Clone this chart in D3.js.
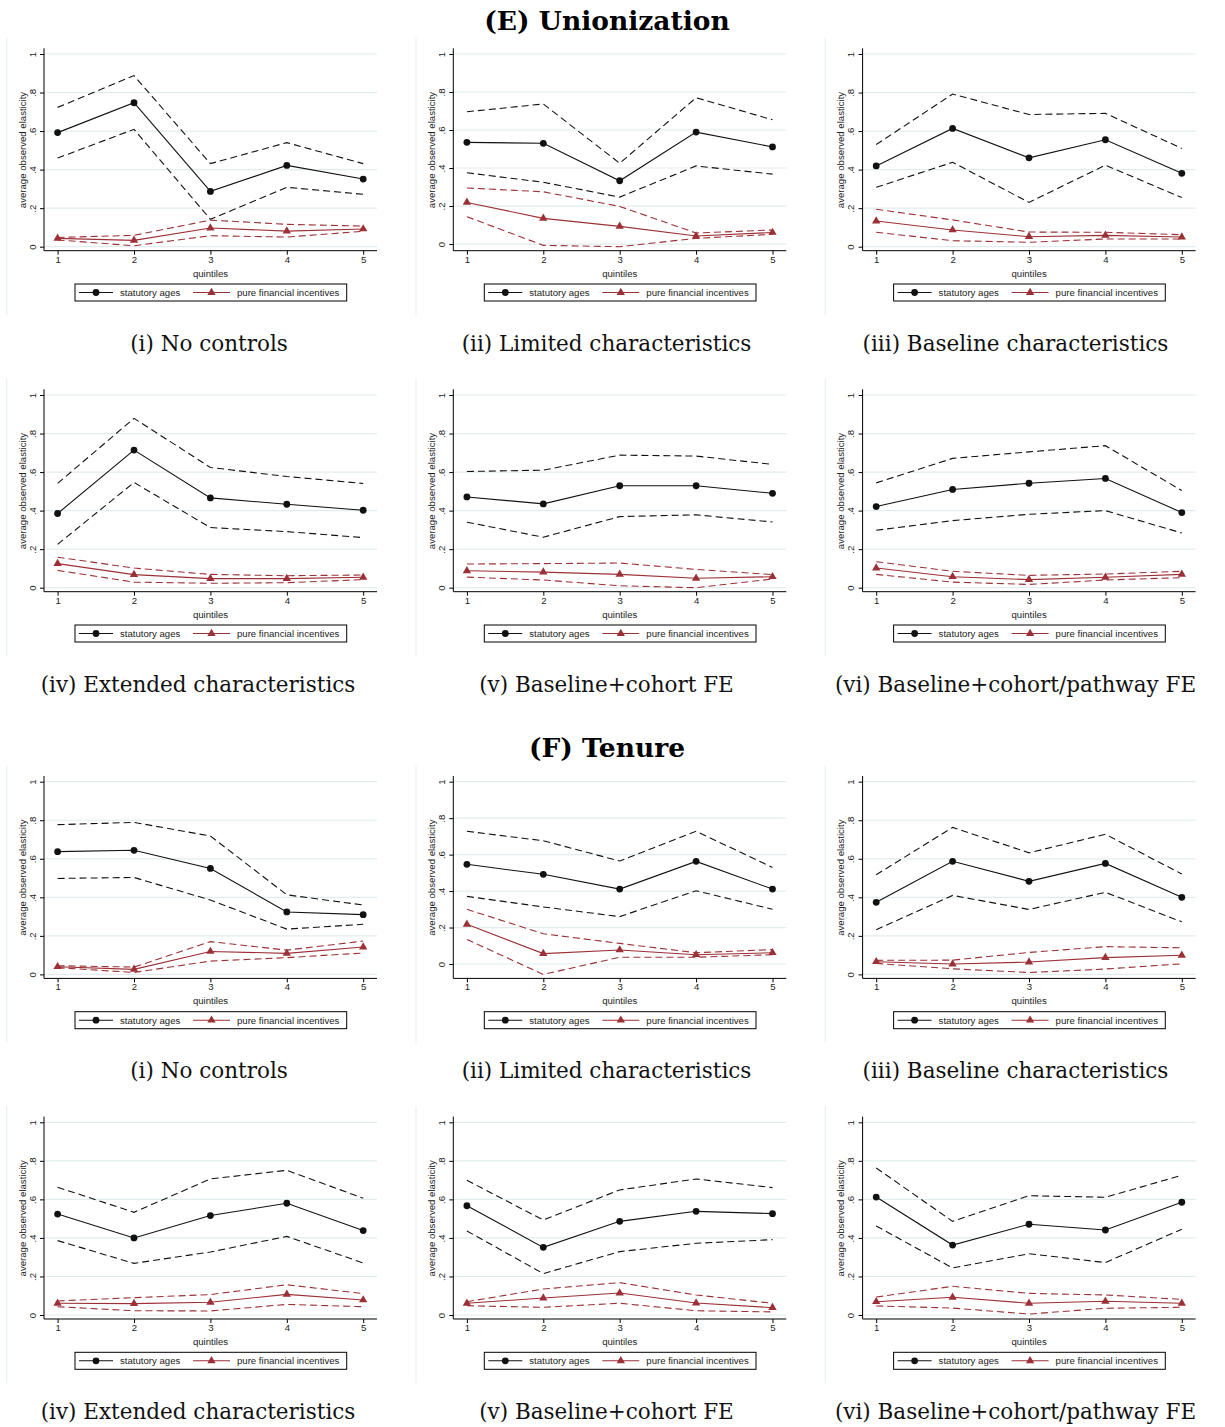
<!DOCTYPE html>
<html>
<head>
<meta charset="utf-8">
<script src="https://cdn.jsdelivr.net/npm/d3@7"></script>
<style>
  body { margin: 0; background: #fff; }
  svg text { font-family: "Liberation Sans", Arial, sans-serif; }
  .cap { font-family: "DejaVu Serif", serif !important; }
</style>
</head>
<body>
<div id="chart"></div>
<script>
// x categories and y ticks
const quintiles = [1, 2, 3, 4, 5];
const yTicks = [0, 0.2, 0.4, 0.6, 0.8, 1];
const yTickLabels = ["0", ".2", ".4", ".6", ".8", "1"];
const seriesNames = ["statutory ages", "pure financial incentives"];
const sectionTitles = ["(E) Unionization", "(F) Tenure"];
const captions = ["(i) No controls", "(ii) Limited characteristics", "(iii) Baseline characteristics",
                  "(iv) Extended characteristics", "(v) Baseline+cohort FE", "(vi) Baseline+cohort/pathway FE"];

// (E) Unionization, one row per specification
const unionStat = [
  [0.592, 0.747, 0.287, 0.422, 0.351],
  [0.535, 0.530, 0.333, 0.589, 0.511],
  [0.419, 0.614, 0.461, 0.555, 0.381],
  [0.385, 0.714, 0.466, 0.433, 0.402],
  [0.471, 0.435, 0.529, 0.529, 0.490],
  [0.421, 0.510, 0.542, 0.567, 0.390]
];
const unionStatHi = [
  [0.723, 0.888, 0.431, 0.540, 0.431],
  [0.696, 0.737, 0.425, 0.770, 0.654],
  [0.530, 0.792, 0.686, 0.692, 0.510],
  [0.541, 0.879, 0.624, 0.577, 0.541],
  [0.603, 0.610, 0.688, 0.683, 0.640],
  [0.544, 0.671, 0.705, 0.737, 0.504]
];
const unionStatLo = [
  [0.460, 0.609, 0.142, 0.308, 0.272],
  [0.375, 0.325, 0.247, 0.411, 0.368],
  [0.308, 0.438, 0.230, 0.423, 0.255],
  [0.225, 0.546, 0.312, 0.291, 0.260],
  [0.340, 0.262, 0.369, 0.378, 0.341],
  [0.298, 0.348, 0.381, 0.400, 0.284]
];
const unionFin = [
  [0.043, 0.033, 0.097, 0.081, 0.092],
  [0.219, 0.135, 0.093, 0.042, 0.061],
  [0.133, 0.087, 0.052, 0.059, 0.050],
  [0.125, 0.068, 0.047, 0.047, 0.054],
  [0.088, 0.081, 0.069, 0.049, 0.057],
  [0.102, 0.057, 0.042, 0.054, 0.069]
];
const unionFinHi = [
  [0.048, 0.059, 0.138, 0.116, 0.107],
  [0.295, 0.275, 0.198, 0.058, 0.074],
  [0.194, 0.139, 0.076, 0.075, 0.062],
  [0.158, 0.102, 0.069, 0.062, 0.066],
  [0.123, 0.125, 0.128, 0.095, 0.068],
  [0.135, 0.085, 0.064, 0.071, 0.085]
];
const unionFinLo = [
  [0.035, 0.005, 0.057, 0.050, 0.080],
  [0.144, -0.007, -0.014, 0.030, 0.051],
  [0.075, 0.031, 0.023, 0.040, 0.040],
  [0.090, 0.029, 0.023, 0.026, 0.042],
  [0.055, 0.040, 0.010, 0.000, 0.045],
  [0.069, 0.029, 0.017, 0.040, 0.052]
];

// (F) Tenure
const tenureStat = [
  [0.637, 0.644, 0.550, 0.324, 0.310],
  [0.547, 0.492, 0.411, 0.563, 0.411],
  [0.374, 0.587, 0.483, 0.576, 0.400],
  [0.524, 0.400, 0.516, 0.580, 0.438],
  [0.567, 0.351, 0.486, 0.538, 0.526],
  [0.612, 0.363, 0.471, 0.441, 0.585]
];
const tenureStatHi = [
  [0.777, 0.789, 0.718, 0.413, 0.360],
  [0.728, 0.676, 0.565, 0.728, 0.530],
  [0.517, 0.763, 0.631, 0.727, 0.521],
  [0.663, 0.533, 0.706, 0.751, 0.606],
  [0.699, 0.493, 0.649, 0.706, 0.661],
  [0.763, 0.486, 0.619, 0.611, 0.725]
];
const tenureStatLo = [
  [0.498, 0.503, 0.386, 0.235, 0.260],
  [0.371, 0.313, 0.260, 0.402, 0.300],
  [0.232, 0.410, 0.337, 0.426, 0.273],
  [0.386, 0.268, 0.327, 0.408, 0.270],
  [0.436, 0.215, 0.329, 0.372, 0.391],
  [0.462, 0.244, 0.318, 0.272, 0.445]
];
const tenureFin = [
  [0.040, 0.026, 0.119, 0.109, 0.142],
  [0.218, 0.057, 0.077, 0.051, 0.062],
  [0.066, 0.054, 0.064, 0.087, 0.099],
  [0.061, 0.059, 0.066, 0.107, 0.078],
  [0.061, 0.088, 0.114, 0.062, 0.038],
  [0.069, 0.092, 0.061, 0.071, 0.061]
];
const tenureFinHi = [
  [0.045, 0.038, 0.170, 0.126, 0.173],
  [0.300, 0.166, 0.113, 0.062, 0.079],
  [0.073, 0.074, 0.114, 0.144, 0.138],
  [0.073, 0.090, 0.106, 0.157, 0.111],
  [0.069, 0.135, 0.168, 0.104, 0.061],
  [0.093, 0.149, 0.112, 0.104, 0.081]
];
const tenureFinLo = [
  [0.035, 0.010, 0.069, 0.087, 0.111],
  [0.135, -0.057, 0.037, 0.037, 0.051],
  [0.057, 0.029, 0.010, 0.028, 0.055],
  [0.043, 0.022, 0.021, 0.055, 0.043],
  [0.048, 0.040, 0.061, 0.022, 0.016],
  [0.047, 0.036, 0.005, 0.035, 0.040]
];

const W = 1225, H = 1427;
const black = "#111", red = "#9b3036";
const colX = [0, 409.3, 818.6];
const sectionRowY = [[54, 395], [781.7, 1122.3]];   // pixel where y = 1 sits
const sectionTitleY = [20, 747];
const captionX = [[209, 606.5, 1015.5], [198, 606.5, 1015.5]];

const svg = d3.select("#chart").append("svg")
    .attr("width", W)
    .attr("height", H);

const sections = [
  {stat: unionStat, statHi: unionStatHi, statLo: unionStatLo, fin: unionFin, finHi: unionFinHi, finLo: unionFinLo},
  {stat: tenureStat, statHi: tenureStatHi, statLo: tenureStatLo, fin: tenureFin, finHi: tenureFinHi, finLo: tenureFinLo}
];

sections.forEach((sec, s) => {
  svg.append("text")
      .attr("class", "cap")
      .attr("x", 607)
      .attr("y", sectionTitleY[s])
      .attr("text-anchor", "middle")
      .attr("dominant-baseline", "central")
      .attr("font-size", 26.5)
      .attr("font-weight", "bold")
      .text(sectionTitles[s]);

  for (let p = 0; p < 6; p++) {
    let col = p % 3, row = Math.floor(p / 3);
    drawPanel(colX[col], sectionRowY[s][row], {
      stat: sec.stat[p], statHi: sec.statHi[p], statLo: sec.statLo[p],
      fin: sec.fin[p], finHi: sec.finHi[p], finLo: sec.finLo[p]
    }, captions[p], captionX[row][col]);
  }
});

function drawPanel(cx, R, d, caption, capX) {
  let g = svg.append("g");

  let lo = Math.min(0, d3.min([d.statLo, d.finLo, d.fin, d.stat].flat()));
  let x = d3.scaleLinear().domain([1, 5]).range([cx + 57.6, cx + 363.2]);
  let y = d3.scaleLinear().domain([lo, 1]).range([R + 192.7, R]);
  let axisY = R + 196.7;
  let left = cx + 44, right = cx + 377;

  // faint edge of the graph region
  g.append("line")
      .attr("x1", cx + 6.7).attr("x2", cx + 6.7)
      .attr("y1", R - 16).attr("y2", R + 261)
      .attr("stroke", "#e4edf0");

  // gridlines
  g.selectAll(".grid").data(yTicks).join("line")
      .attr("x1", left).attr("x2", right)
      .attr("y1", t => y(t)).attr("y2", t => y(t))
      .attr("stroke", "#e2ecee")
      .attr("stroke-width", 1.2);

  // axes
  let xAxis = g.append("g")
      .attr("transform", `translate(0,${axisY})`)
      .call(d3.axisBottom(x).tickValues(quintiles).tickSize(4).tickSizeOuter(0).tickFormat(d3.format("d")));
  xAxis.select(".domain").remove();
  xAxis.selectAll("text").attr("font-size", 9.6).attr("fill", "#222").attr("y", 5).attr("dy", "0.71em");

  let yAxis = g.append("g")
      .attr("transform", `translate(${left},0)`)
      .call(d3.axisLeft(y).tickValues(yTicks).tickSize(4).tickSizeOuter(0).tickFormat((t, i) => yTickLabels[i]));
  yAxis.select(".domain").remove();
  yAxis.selectAll("text")
      .attr("font-size", 9.6)
      .attr("fill", "#222")
      .attr("x", 0)
      .attr("dy", "0.35em")
      .attr("text-anchor", "middle")
      .attr("transform", "translate(-11.7,0) rotate(-90)");

  g.append("line")
      .attr("x1", left).attr("x2", right)
      .attr("y1", axisY).attr("y2", axisY)
      .attr("stroke", "#000");
  g.append("line")
      .attr("x1", left).attr("x2", left)
      .attr("y1", R - 5.7).attr("y2", axisY)
      .attr("stroke", "#000");

  g.append("text")
      .attr("x", cx + 210.5)
      .attr("y", R + 219)
      .attr("text-anchor", "middle")
      .attr("dominant-baseline", "central")
      .attr("font-size", 9.6)
      .attr("fill", "#222")
      .text("quintiles");

  g.append("text")
      .attr("transform", `translate(${cx + 22.3},${R + 96}) rotate(-90)`)
      .attr("text-anchor", "middle")
      .attr("dominant-baseline", "central")
      .attr("font-size", 9.6)
      .attr("fill", "#222")
      .text("average observed elasticity");

  let line = d3.line().x((v, i) => x(quintiles[i])).y(v => y(v));

  let paths = [
    [d.statHi, black, "7,4"], [d.statLo, black, "7,4"],
    [d.finHi, red, "7,4"], [d.finLo, red, "7,4"],
    [d.stat, black, null], [d.fin, red, null]
  ];
  paths.forEach(([vals, color, dash]) => {
    g.append("path")
        .attr("d", line(vals))
        .attr("fill", "none")
        .attr("stroke", color)
        .attr("stroke-width", 1.1)
        .attr("stroke-dasharray", dash);
  });

  g.selectAll(".dot").data(d.stat).join("circle")
      .attr("cx", (v, i) => x(quintiles[i]))
      .attr("cy", v => y(v))
      .attr("r", 3.4)
      .attr("fill", black);

  let tri = d3.symbol().type(d3.symbolTriangle).size(30);
  g.selectAll(".tri").data(d.fin).join("path")
      .attr("d", tri)
      .attr("transform", (v, i) => `translate(${x(quintiles[i])},${y(v)})`)
      .attr("fill", red);

  // legend
  let ly = R + 238.5;
  g.append("rect")
      .attr("x", cx + 75).attr("y", R + 230)
      .attr("width", 271.7).attr("height", 17)
      .attr("fill", "#fff")
      .attr("stroke", "#000");

  let keys = [
    {x1: cx + 79, x2: cx + 113, tx: cx + 120, color: black, name: seriesNames[0], mark: "circle"},
    {x1: cx + 193, x2: cx + 230, tx: cx + 237, color: red, name: seriesNames[1], mark: "tri"}
  ];
  keys.forEach(k => {
    g.append("line")
        .attr("x1", k.x1).attr("x2", k.x2)
        .attr("y1", ly).attr("y2", ly)
        .attr("stroke", k.color)
        .attr("stroke-width", 1.1);
    if (k.mark === "circle") {
      g.append("circle").attr("cx", (k.x1 + k.x2) / 2).attr("cy", ly).attr("r", 3.4).attr("fill", k.color);
    } else {
      g.append("path").attr("d", tri).attr("transform", `translate(${(k.x1 + k.x2) / 2},${ly})`).attr("fill", k.color);
    }
    g.append("text")
        .attr("x", k.tx).attr("y", ly)
        .attr("dominant-baseline", "central")
        .attr("font-size", 9.6)
        .attr("fill", "#222")
        .text(k.name);
  });

  // subfigure caption
  g.append("text")
      .attr("class", "cap")
      .attr("x", capX)
      .attr("y", R + 289)
      .attr("text-anchor", "middle")
      .attr("dominant-baseline", "central")
      .attr("font-size", 21.5)
      .attr("fill", "#111")
      .text(caption);
}
</script>
</body>
</html>
